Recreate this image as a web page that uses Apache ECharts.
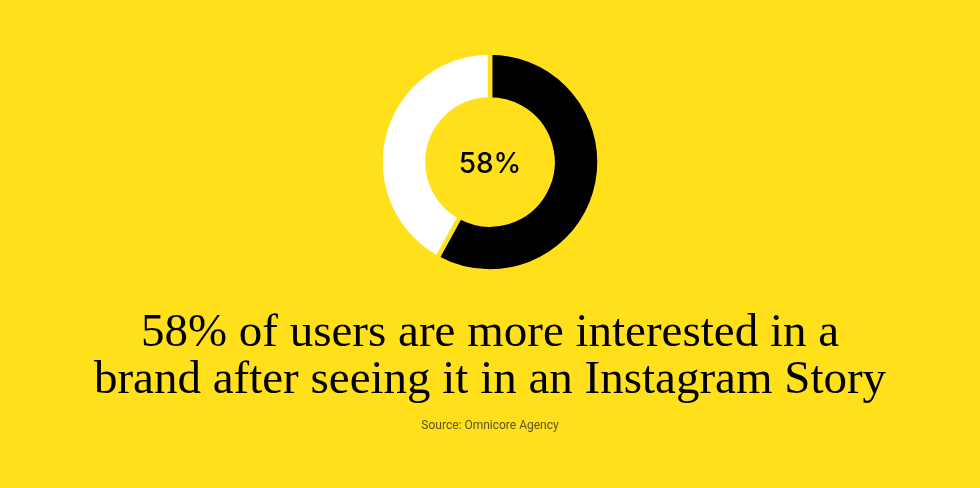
<!DOCTYPE html>
<html>
<head>
<meta charset="utf-8">
<script src="https://cdn.jsdelivr.net/npm/echarts@6/dist/echarts.min.js"></script>
<style>
  html, body { margin: 0; padding: 0; background: #FFE01B; }
  #chart { width: 980px; height: 488px; }
</style>
</head>
<body>
<div id="chart"></div>
<script>
// Share of users more interested in a brand after an Instagram Story
const segmentNames = ['More interested', 'Other'];
const segmentValues = [58, 42];
const segmentColors = ['#000000', '#FFFFFF'];
const centerLabel = '58%';
const headlineLines = [
  '58% of users are more interested in a',
  'brand after seeing it in an Instagram Story'
];
const sourceText = 'Source: Omnicore Agency';

const bg = '#FFE01B';
const chart = echarts.init(document.getElementById('chart'));

chart.setOption({
  backgroundColor: bg,
  animation: false,
  series: [{
    type: 'pie',
    center: [490, 162],
    radius: [62.5, 109.5],
    startAngle: 90,
    clockwise: true,
    silent: true,
    label: { show: false },
    labelLine: { show: false },
    itemStyle: { borderColor: bg, borderWidth: 4.5 },
    data: segmentNames.map((n, i) => ({
      name: n,
      value: segmentValues[i],
      itemStyle: { color: segmentColors[i] }
    }))
  }],
  graphic: [
    {
      type: 'text', x: 490, y: 165,
      style: {
        text: centerLabel, fill: '#000',
        font: '500 28px Inter, "Liberation Sans", sans-serif',
        textAlign: 'center', textVerticalAlign: 'middle'
      }
    },
    {
      type: 'text', x: 490, y: 334,
      style: {
        text: headlineLines[0], fill: '#000',
        font: '47px "Liberation Serif", serif',
        textAlign: 'center', textVerticalAlign: 'middle'
      }
    },
    {
      type: 'text', x: 490, y: 381,
      style: {
        text: headlineLines[1], fill: '#000',
        font: '47px "Liberation Serif", serif',
        textAlign: 'center', textVerticalAlign: 'middle'
      }
    },
    {
      type: 'text', x: 490, y: 426,
      style: {
        text: sourceText, fill: '#5c5218',
        font: '12px Roboto, "Liberation Sans", sans-serif',
        textAlign: 'center', textVerticalAlign: 'middle'
      }
    }
  ]
});
</script>
</body>
</html>
